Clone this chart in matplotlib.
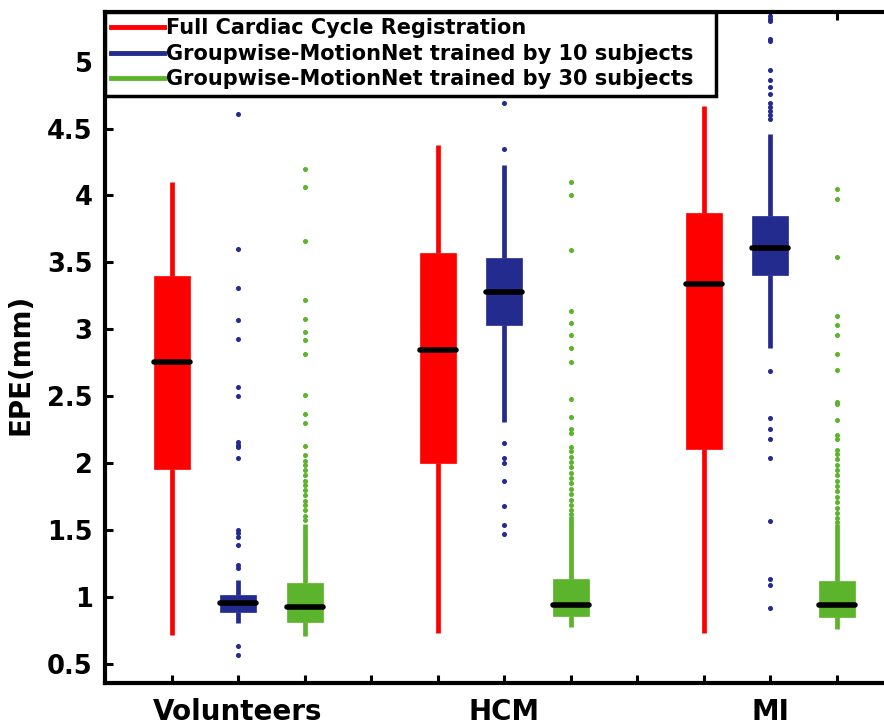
import numpy as np
import matplotlib
matplotlib.use('Agg')
import matplotlib.pyplot as plt
from matplotlib.lines import Line2D

# ------------------------------------------------ data (EPE in mm)
groups = ['Volunteers', 'HCM', 'MI']
methods = ['Full Cardiac Cycle Registration',
           'Groupwise-MotionNet trained by 10 subjects',
           'Groupwise-MotionNet trained by 30 subjects']
colors = ['#FF0000', '#232B8E', '#5BB42B']

# per box: [whisker low, q1, median, q3, whisker high], order = group x method
whislo = [0.72, 0.81, 0.71, 0.73, 2.31, 0.78, 0.73, 2.86, 0.76]
q1 = [1.955, 0.89, 0.815, 2.00, 3.035, 0.86, 2.11, 3.41, 0.85]
med = [2.76, 0.955, 0.925, 2.85, 3.28, 0.945, 3.34, 3.61, 0.94]
q3 = [3.40, 1.015, 1.105, 3.57, 3.53, 1.135, 3.87, 3.85, 1.12]
whishi = [4.10, 1.13, 1.55, 4.38, 4.23, 1.61, 4.67, 4.46, 1.55]

fliers = [
    [],
    [4.61, 3.60, 3.31, 3.07, 2.93, 2.57, 2.50, 2.16, 2.14, 2.12, 2.04,
     1.50, 1.48, 1.45, 1.39, 1.24, 1.22, 0.635, 0.57],
    [4.20, 4.06, 3.66, 3.22, 3.08, 2.98, 2.92, 2.82, 2.51, 2.37, 2.30, 2.13, 2.06,
     2.02, 1.985, 1.95, 1.91, 1.87, 1.84, 1.80, 1.765, 1.72, 1.69, 1.65, 1.61, 1.575],
    [],
    [4.69, 4.35, 2.15, 2.04, 2.00, 1.865, 1.68, 1.54, 1.47],
    [4.10, 4.00, 3.59, 3.14, 3.05, 2.96, 2.86, 2.755, 2.48, 2.345, 2.26, 2.23, 2.12,
     2.09, 2.05, 2.01, 1.97, 1.93, 1.89, 1.85, 1.81, 1.77, 1.73, 1.69, 1.65, 1.62],
    [],
    [5.34, 5.32, 5.30, 5.17, 5.15, 4.94, 4.86, 4.81, 4.76, 4.69, 4.66, 4.63, 4.60,
     4.57, 2.69, 2.34, 2.26, 2.18, 2.04, 1.57, 1.14, 1.09, 0.92],
    [4.05, 3.97, 3.54, 3.10, 3.03, 2.96, 2.82, 2.70, 2.455, 2.44, 2.32, 2.21, 2.18,
     2.10, 2.07, 2.03, 1.99, 1.95, 1.91, 1.87, 1.83, 1.79, 1.75, 1.71, 1.67, 1.63, 1.59, 1.56],
]

positions = [1, 2, 3, 5, 6, 7, 9, 10, 11]
tick_pos = list(range(1, 12))
tick_lab = ['', 'Volunteers', '', '', '', 'HCM', '', '', '', 'MI', '']

#------------------------------------------------ plot
plt.rcParams['font.family'] = 'DejaVu Sans'
plt.rcParams['font.weight'] = 'bold'

fig = plt.figure(figsize=(8.84, 7.26), dpi=100)
ax = fig.add_axes([0.1188, 0.0592, 0.8812, 0.9243])

for i in range(len(positions)):
    c = colors[i % 3]
    st = [dict(whislo=whislo[i], q1=q1[i], med=med[i], q3=q3[i], whishi=whishi[i], fliers=fliers[i])]
    ax.bxp(st, positions=[positions[i]], widths=0.54, patch_artist=True, showcaps=False,
           boxprops=dict(facecolor=c, edgecolor=c, linewidth=0.5),
           whiskerprops=dict(color=c, linewidth=3.4, solid_capstyle='butt'),
           medianprops=dict(color='black', linewidth=4, solid_capstyle='round'),
           flierprops=dict(marker='o', markersize=2.6, markerfacecolor=c, markeredgecolor=c, linestyle='none'),
           manage_ticks=False, zorder=2)

ax.set_xlim(0, 11.71)
ax.set_ylim(0.36, 5.37)
ax.set_yticks([0.5, 1, 1.5, 2, 2.5, 3, 3.5, 4, 4.5, 5])
ax.set_yticklabels(['0.5', '1', '1.5', '2', '2.5', '3', '3.5', '4', '4.5', '5'])
ax.set_xticks(tick_pos)
ax.set_xticklabels(tick_lab)
ax.tick_params(axis='both', direction='in', length=6, width=2.2, top=True)
ax.tick_params(axis='x', pad=11, labelsize=20)
ax.tick_params(axis='y', pad=9, labelsize=18.5)
ax.set_ylabel('EPE(mm)', fontsize=20, fontweight='bold')
ax.yaxis.set_label_coords(-0.09, 0.475)

for s in ['left', 'bottom', 'top']:
    ax.spines[s].set_linewidth(3)
ax.spines['right'].set_visible(False)

handles = [Line2D([0], [0], color=c, linewidth=3.5) for c in colors]
leg = ax.legend(handles, methods, loc='upper left', bbox_to_anchor=(0, 0.5, 0.784, 0.5),
                mode='expand', borderaxespad=0,
                prop=dict(weight='bold', size=15), fancybox=False, framealpha=1,
                handlelength=2.55, handletextpad=0.1, labelspacing=0.27, borderpad=0.3)
leg.get_frame().set_edgecolor('black')
leg.get_frame().set_linewidth(2.5)
leg.set_zorder(5)

plt.savefig('out.png', dpi=100)
